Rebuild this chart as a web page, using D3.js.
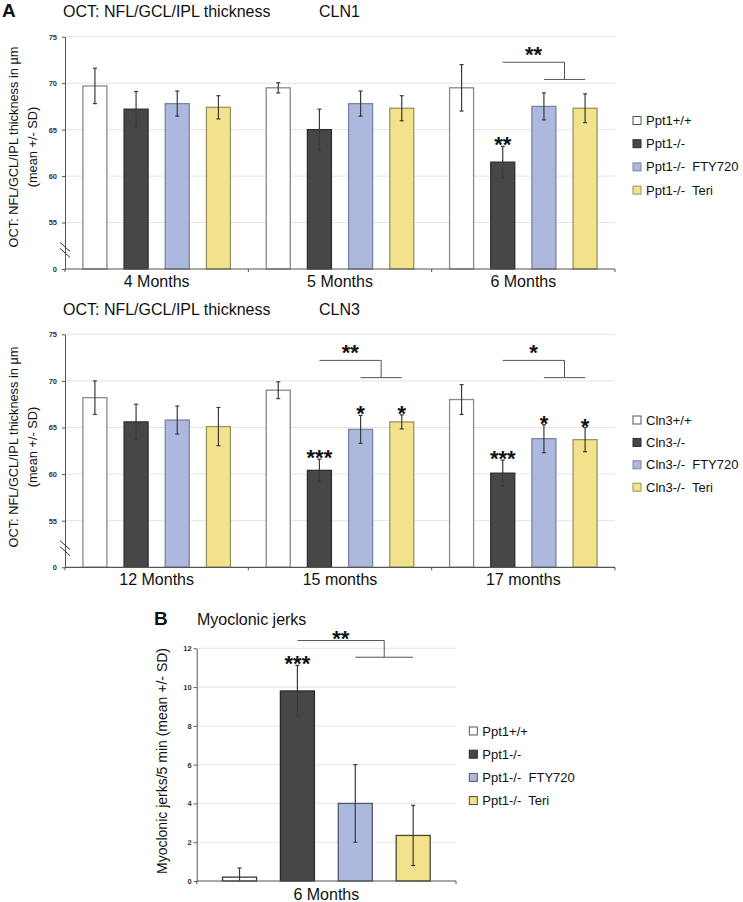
<!DOCTYPE html>
<html>
<head>
<meta charset="utf-8">
<script src="https://cdn.jsdelivr.net/npm/d3@7"></script>
<style>
  body { margin: 0; background: #fff; }
  text { font-family: "Liberation Sans", Arial, sans-serif; }
</style>
</head>
<body>
<svg id="fig" width="743" height="902"></svg>
<script>
// ---- data ----
var seriesPpt1 = ['Ppt1+/+', 'Ppt1-/-', 'Ppt1-/-  FTY720', 'Ppt1-/-  Teri'];
var seriesCln3 = ['Cln3+/+', 'Cln3-/-', 'Cln3-/-  FTY720', 'Cln3-/-  Teri'];

var groupsCln1 = ['4 Months', '5 Months', '6 Months'];
var meanCln1 = [[69.7, 67.2, 67.8, 67.4], [69.5, 65.0, 67.8, 67.3], [69.5, 61.5, 67.5, 67.3]];
var sdCln1   = [[1.9, 1.9, 1.35, 1.25], [0.55, 2.2, 1.35, 1.35], [2.5, 1.7, 1.45, 1.55]];
var starsCln1 = [['', '', '', ''], ['', '', '', ''], ['', '**', '', '']];
var bracketCln1 = ['', '', '**'];

var groupsCln3 = ['12 Months', '15 months', '17 months'];
var meanCln3 = [[68.2, 65.6, 65.8, 65.1], [69.0, 60.4, 64.8, 65.6], [68.0, 60.1, 63.8, 63.7]];
var sdCln3   = [[1.8, 1.9, 1.5, 2.05], [0.9, 1.2, 1.5, 0.75], [1.6, 1.4, 1.5, 1.3]];
var starsCln3 = [['', '', '', ''], ['', '***', '*', '*'], ['', '***', '*', '*']];
var bracketCln3 = ['', '**', '*'];

var groupsJerks = ['6 Months'];
var meanJerks = [[0.2, 9.8, 4.0, 2.35]];
var sdJerks   = [[0.47, 1.32, 2.0, 1.55]];
var starsJerks = [['', '***', '', '']];
var bracketJerks = ['**'];

var octTicks = [50, 55, 60, 65, 70, 75];   // 50 is drawn as "0" (broken axis)
var jerkTicks = [0, 2, 4, 6, 8, 10, 12];

var fills   = ['#ffffff', '#474747', '#adb8de', '#f2e28c'];
var strokes = ['#8a8a8a', '#2e2e2e', '#7b849f', '#9a9462'];
var strokesB = ['#3a3a3a', '#2a2a2a', '#4f586e', '#4a4630'];

var svg = d3.select('#fig');

function barChart(o) {
    var g = svg.append('g');
    var x0 = d3.scaleBand().domain(o.groups).range([o.left, o.right]);
    var x1 = d3.scaleBand().domain(d3.range(o.series.length))
        .range([0, x0.bandwidth()]).paddingInner(o.padIn).paddingOuter(o.padOut);
    var y = d3.scaleLinear().domain(o.domain).range([o.bottom, o.top]);
    var cx = function(gi, si) { return x0(o.groups[gi]) + x1(si) + x1.bandwidth() / 2; };

    // grid lines
    g.append('g').selectAll('line')
        .data(o.ticks.filter(function(t) { return t !== o.domain[0]; }))
        .enter().append('line')
        .attr('x1', o.left).attr('x2', o.right)
        .attr('y1', function(d) { return y(d); }).attr('y2', function(d) { return y(d); })
        .attr('stroke', '#e4e4e4').attr('stroke-width', 1);

    // y axis
    var ya = g.append('g').attr('transform', 'translate(' + o.left + ',0)')
        .call(d3.axisLeft(y).tickValues(o.ticks).tickFormat(o.fmt).tickSize(3).tickSizeOuter(0).tickPadding(o.tickPad));
    ya.select('.domain').attr('stroke', '#555');
    ya.selectAll('.tick line').attr('stroke', '#555');
    ya.selectAll('.tick text').attr('font-size', 7.5).attr('font-weight', 'bold').attr('fill', '#333')
        .attr('font-family', '"Liberation Sans", Arial, sans-serif');

    // axis break
    if (o.breakAt !== undefined) {
        [-3, 3].forEach(function(dy) {
            g.append('line')
                .attr('x1', o.left - 5).attr('x2', o.left + 5)
                .attr('y1', y(o.breakAt) + dy - 5).attr('y2', y(o.breakAt) + dy + 4)
                .attr('stroke', '#333').attr('stroke-width', 1);
        });
    }

    // bars
    var flat = [];
    o.groups.forEach(function(gn, gi) {
        o.series.forEach(function(s, si) {
            flat.push({gi: gi, si: si, v: o.means[gi][si], sd: o.sds[gi][si], star: o.stars[gi][si]});
        });
    });
    g.append('g').selectAll('rect').data(flat).enter().append('rect')
        .attr('x', function(d) { return x0(o.groups[d.gi]) + x1(d.si); })
        .attr('width', x1.bandwidth())
        .attr('y', function(d) { return y(d.v); })
        .attr('height', function(d) { return y(o.domain[0]) - y(d.v); })
        .attr('fill', function(d) { return fills[d.si]; })
        .attr('stroke', function(d) { return o.strokes[d.si]; })
        .attr('stroke-width', 1.3);

    // error bars
    var eb = g.append('g').selectAll('g').data(flat).enter().append('g')
        .attr('stroke', '#3a3a3a').attr('stroke-width', 1.2);
    eb.append('line')
        .attr('x1', function(d) { return cx(d.gi, d.si); }).attr('x2', function(d) { return cx(d.gi, d.si); })
        .attr('y1', function(d) { return y(Math.max(o.domain[0], d.v - d.sd)); })
        .attr('y2', function(d) { return y(d.v + d.sd); });
    eb.append('line')
        .attr('x1', function(d) { return cx(d.gi, d.si) - 2; }).attr('x2', function(d) { return cx(d.gi, d.si) + 2; })
        .attr('y1', function(d) { return y(d.v + d.sd); }).attr('y2', function(d) { return y(d.v + d.sd); });
    eb.filter(function(d) { return d.v - d.sd > o.domain[0]; }).append('line')
        .attr('x1', function(d) { return cx(d.gi, d.si) - 2; }).attr('x2', function(d) { return cx(d.gi, d.si) + 2; })
        .attr('y1', function(d) { return y(d.v - d.sd); }).attr('y2', function(d) { return y(d.v - d.sd); });

    // significance stars over bars
    g.append('g').selectAll('text').data(flat.filter(function(d) { return d.star; })).enter().append('text')
        .attr('x', function(d) { return cx(d.gi, d.si); })
        .attr('y', function(d) { return y(d.v + d.sd) + 6; })
        .attr('text-anchor', 'middle').attr('font-size', 22).attr('font-weight', 'bold').attr('fill', '#111')
        .text(function(d) { return d.star; });

    // brackets: Ppt1-/- vs the two treated groups
    o.brackets.forEach(function(lab, gi) {
        if (!lab) return;
        var xa = cx(gi, 1), xb = cx(gi, 2), xc = cx(gi, 3), xm = (xb + xc) / 2;
        var yh = y(o.brHi), yl = y(o.brLo);
        var p = g.append('g').attr('stroke', '#555').attr('stroke-width', 1).attr('fill', 'none');
        p.append('path').attr('d', 'M' + xa + ',' + yh + 'H' + xm + 'V' + yl);
        p.append('path').attr('d', 'M' + xb + ',' + yl + 'H' + xc);
        g.append('text').attr('x', (xa + xm) / 2).attr('y', yh + o.brText)
            .attr('text-anchor', 'middle').attr('font-size', 22).attr('font-weight', 'bold').attr('fill', '#111').text(lab);
    });

    // x axis
    g.append('line').attr('x1', o.left).attr('x2', o.right)
        .attr('y1', o.bottom).attr('y2', o.bottom).attr('stroke', '#555').attr('stroke-width', 1.2);
    var bounds = o.groups.map(function(d) { return x0(d); }).concat([o.right]);
    g.append('g').selectAll('line').data(bounds).enter().append('line')
        .attr('x1', function(d) { return d; }).attr('x2', function(d) { return d; })
        .attr('y1', o.bottom).attr('y2', o.bottom + 3).attr('stroke', '#555');
    g.append('g').selectAll('text').data(o.groups).enter().append('text')
        .attr('x', function(d) { return x0(d) + x0.bandwidth() / 2; })
        .attr('y', o.bottom + o.catDy)
        .attr('text-anchor', 'middle').attr('font-size', 16).attr('fill', '#111')
        .text(function(d) { return d; });

    // y label (rotated)
    o.ylabel.forEach(function(line, i) {
        g.append('text')
            .attr('transform', 'translate(' + o.ylabelX[i] + ',' + o.ylabelY + ') rotate(-90)')
            .attr('text-anchor', 'middle').attr('font-size', o.ylabelSize).attr('fill', '#111')
            .text(line);
    });

    // legend
    var lg = g.append('g').selectAll('g').data(o.series).enter().append('g')
        .attr('transform', function(d, i) { return 'translate(' + o.legX + ',' + (o.legY + i * o.legStep) + ')'; });
    lg.append('rect').attr('x', 0).attr('y', -4).attr('width', 8).attr('height', 8)
        .attr('fill', function(d, i) { return fills[i]; })
        .attr('stroke', function(d, i) { return i === 0 ? '#555' : o.strokes[i]; }).attr('stroke-width', 1);
    lg.append('text').attr('x', 13).attr('y', 4.5).attr('font-size', 13).attr('fill', '#111')
        .style('white-space', 'pre').text(function(d) { return d; });
}

function octFmt(v) { return v === 50 ? '0' : v; }

// panel titles
function title(x, y, t, size, bold) {
    svg.append('text').attr('x', x).attr('y', y).attr('font-size', size)
        .attr('font-weight', bold ? 'bold' : 'normal').attr('fill', '#111').text(t);
}
title(2, 17, 'A', 19, true);
title(63, 17, 'OCT: NFL/GCL/IPL thickness', 16);
title(319, 17, 'CLN1', 16);
title(63, 315, 'OCT: NFL/GCL/IPL thickness', 16);
title(319, 315, 'CLN3', 16);
title(154, 625, 'B', 19, true);
title(197, 625, 'Myoclonic jerks', 16);

var octLabel = ['OCT: NFL/GCL/IPL thickness in µm', '(mean +/- SD)'];

barChart({
    groups: groupsCln1, series: seriesPpt1, means: meanCln1, sds: sdCln1, stars: starsCln1, brackets: bracketCln1,
    left: 65, right: 615, top: 36.7, bottom: 269, domain: [50, 75], ticks: octTicks, fmt: octFmt, tickPad: 5,
    padIn: 0.417, padOut: 0.435, strokes: strokes, breakAt: 52, brHi: 72.25, brLo: 70.4, brText: 0,
    catDy: 18, ylabel: octLabel, ylabelX: [17.5, 37], ylabelY: 147, ylabelSize: 12.8,
    legX: 633, legY: 120.5, legStep: 23.2
});

barChart({
    groups: groupsCln3, series: seriesCln3, means: meanCln3, sds: sdCln3, stars: starsCln3, brackets: bracketCln3,
    left: 65, right: 615, top: 334.3, bottom: 567.3, domain: [50, 75], ticks: octTicks, fmt: octFmt, tickPad: 5,
    padIn: 0.417, padOut: 0.435, strokes: strokes, breakAt: 52, brHi: 72.2, brLo: 70.35, brText: 0,
    catDy: 18, ylabel: octLabel, ylabelX: [17.5, 37], ylabelY: 447, ylabelSize: 12.8,
    legX: 633, legY: 420, legStep: 22.4
});

barChart({
    groups: groupsJerks, series: seriesPpt1, means: meanJerks, sds: sdJerks, stars: starsJerks, brackets: bracketJerks,
    left: 196.7, right: 456, top: 648.3, bottom: 881, domain: [0, 12], ticks: jerkTicks, fmt: function(v) { return v; }, tickPad: 2,
    padIn: 0.412, padOut: 0.446, strokes: strokesB, brHi: 12.4, brLo: 11.54, brText: 5,
    catDy: 19, ylabel: ['Myoclonic jerks/5 min (mean +/- SD)'], ylabelX: [166.5], ylabelY: 761, ylabelSize: 14,
    legX: 469.3, legY: 731, legStep: 23.2
});
</script>
</body>
</html>
